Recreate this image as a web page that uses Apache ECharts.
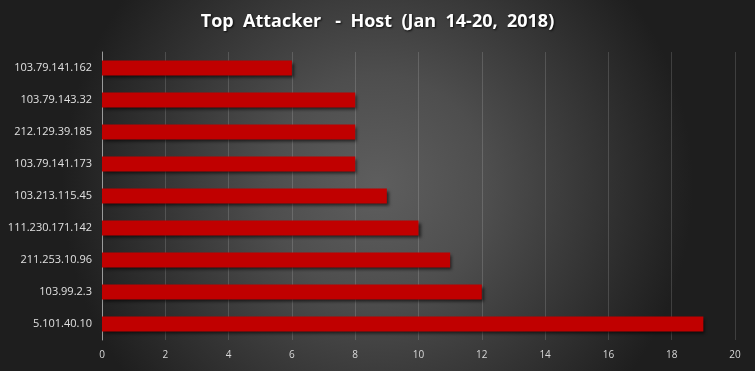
<!DOCTYPE html>
<html><head><meta charset="utf-8">
<script src="https://cdn.jsdelivr.net/npm/echarts@6/dist/echarts.min.js"></script>
<style>html,body{margin:0;padding:0;background:#333}#c{width:755px;height:371px}</style>
</head><body><div id="c"></div>
<script>
const categories = ['103.79.141.162','103.79.143.32','212.129.39.185','103.79.141.173','103.213.115.45','111.230.171.142','211.253.10.96','103.99.2.3','5.101.40.10'];
const values = [6,8,8,8,9,10,11,12,19];
const chart = echarts.init(document.getElementById('c'));
chart.setOption({
  backgroundColor: {type:'radial', x:0.5, y:0.5, r:0.85, colorStops:[{offset:0,color:'#5e5e5e'},{offset:0.35,color:'#4e4e4e'},{offset:1,color:'#1e1e1e'}]},
  title: {text:'Top  Attacker   -  Host  (Jan  14-20,  2018)', left:'center', top:8,
    textStyle:{color:'#ffffff', fontFamily:'Open Sans', fontWeight:'bold', fontSize:18,
      textShadowColor:'rgba(0,0,0,0.8)', textShadowBlur:2, textShadowOffsetX:1, textShadowOffsetY:1}},
  grid: {left:102, right:20, top:52, bottom:31},
  xAxis: {type:'value', min:0, max:20, interval:2,
    axisLine:{show:false}, axisTick:{show:false},
    axisLabel:{color:'#d9d9d9', fontFamily:'Open Sans', fontSize:10, margin:10},
    splitLine:{lineStyle:{color:'rgba(255,255,255,0.15)', width:1}}},
  yAxis: {type:'category', data:categories, inverse:true,
    axisLine:{show:true, lineStyle:{color:'#9a9a9a'}}, axisTick:{show:false},
    axisLabel:{color:'#e0e0e0', fontFamily:'Open Sans', fontSize:11, margin:10}},
  series: [{type:'bar', data:values, barWidth:15,
    itemStyle:{color:'#c00000', shadowColor:'rgba(0,0,0,0.6)', shadowBlur:3, shadowOffsetX:2, shadowOffsetY:2}}]
});
</script></body></html>
